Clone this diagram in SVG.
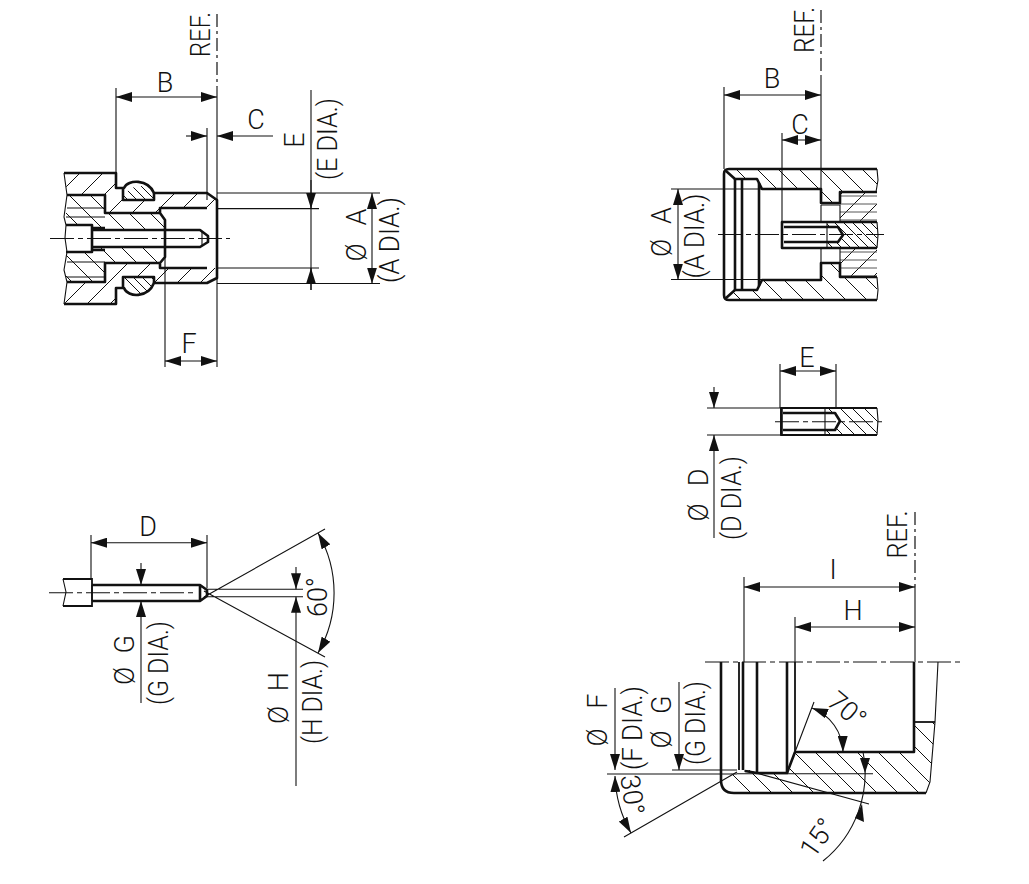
<svg xmlns="http://www.w3.org/2000/svg" width="1029" height="884" viewBox="0 0 1029 884">
<style>
text{font-family:"Roboto","Liberation Sans",sans-serif;font-weight:300;font-size:27px;fill:#111;text-anchor:middle}
.n{fill:none;stroke:#111;stroke-width:1.1}
.k{fill:none;stroke:#111;stroke-width:2.6;stroke-linejoin:round}
.m{fill:none;stroke:#111;stroke-width:1.8}
.c{fill:none;stroke:#111;stroke-width:1.1;stroke-dasharray:24 4 5 4}
.r{fill:none;stroke:#111;stroke-width:1.2;stroke-dasharray:13 4 3 4}
.w{fill:#fff;stroke:none}
.d{fill:none;stroke:#111;stroke-width:1.1;marker-start:url(#a);marker-end:url(#a)}
.e{fill:none;stroke:#111;stroke-width:1.1;marker-end:url(#a)}
</style>
<defs>
<marker id="a" markerUnits="userSpaceOnUse" viewBox="0 0 16 10" refX="16" refY="5" markerWidth="16" markerHeight="10" orient="auto-start-reverse"><path d="M16,5L0,0V10z" fill="#111"/></marker>
<pattern id="s" width="21" height="21" patternUnits="userSpaceOnUse"><path d="M-2,-2L23,23" stroke="#111" stroke-width="1"/></pattern>
<pattern id="s2" width="9" height="9" patternUnits="userSpaceOnUse"><path d="M-2,-2L11,11" stroke="#111" stroke-width="1"/></pattern>
<pattern id="s3" width="12" height="12" patternUnits="userSpaceOnUse"><path d="M-2,-2L14,14" stroke="#111" stroke-width="1"/></pattern>
<pattern id="f" width="23" height="23" patternUnits="userSpaceOnUse"><path d="M-2,25L25,-2" stroke="#111" stroke-width="1"/></pattern>
<pattern id="h" width="10" height="8" patternUnits="userSpaceOnUse"><path d="M0,4H10" stroke="#555" stroke-width="1"/></pattern>
</defs>

<g id="view-socket-left">
<path fill="url(#f)" d="M65,173H116V188H123V200H154V193H207L217,200V208H160V213H105V195H67Z"/>
<path fill="url(#f)" d="M67,282H105V263H160V268H217V278L207,283H154V277H123V288H116V304H65Z"/>
<path fill="url(#s)" d="M66,195H105V213H160L165,220V230H92V225H66Z"/>
<path fill="url(#s)" d="M66,252H92V247H165V257L160,263H105V282H66Z"/>
<path fill="url(#s2)" d="M123,199C124,186 152,178 154,199ZM123,277C124,298 152,300 154,277Z"/>
<path class="k" d="M64,173H116V188H124C128,179 148,179 154,193H207L217,200V278L207,283H154C148,298 128,298 124,288H116V304H64"/>
<path class="k" d="M123,188V200H154V193M123,288V277H154V283"/>
<path class="k" d="M67,195H105V213H160L165,220V257L160,263H105V282H67M160,213V208H207M160,263V268H207"/>
<path class="k" d="M66,225H92V252H66M92,230H200L208,236V242L200,247H92M92,228H105M92,250H105"/>
<path class="n" d="M64,173L67,195L64,217L66,225L65,238L67,252L64,270L67,282L64,304M66,217H105M67,208H105M67,262H105M67,277H105M202,231V246"/>
<path class="c" d="M50,238.5H230"/>
</g>
<g id="dims-socket-left">
<path class="n" d="M116,88V173M217,87V299M207,128V200M165,250V367M217,299V367M217,193H380M217,283.5H380M217,208.6H319M217,268H319"/>
<path class="r" d="M217,14V87"/>
<path class="d" d="M116,97H217"/>
<path class="e" d="M186,136H207"/>
<path class="e" d="M273,136H217"/>
<path class="n" d="M311,90V290"/>
<path class="e" d="M311,180V208.6"/>
<path class="e" d="M311,290V268"/>
<path class="d" d="M372,193V283.5"/>
<path class="d" d="M165,361H217"/>
<text x="165" y="92">B</text><text x="256" y="129">C</text><text x="189" y="353">F</text>
<text transform="translate(210,34.5) rotate(-90)" textLength="45" lengthAdjust="spacingAndGlyphs">REF.</text>
<text transform="translate(304,140) rotate(-90)">E</text>
<text transform="translate(337,139) rotate(-90)" textLength="82" lengthAdjust="spacingAndGlyphs">(E DIA.)</text>
<text transform="translate(366,235) rotate(-90)" textLength="53" lengthAdjust="spacing">Ø A</text>
<text transform="translate(399,240) rotate(-90)" textLength="86" lengthAdjust="spacingAndGlyphs">(A DIA.)</text>
</g>

<g id="view-pin-left">
<path class="m" d="M63,579H92V606H63"/>
<path class="n" d="M63,579L66,592L63,606"/>
<path class="k" d="M92,585H200L207,590V596L200,601H92M200,586V600"/>
<path class="n" d="M92,585V601"/>
<path class="c" d="M49,592.7H197"/>
<path class="n" d="M325,529L204,597M325,657L204,591M207,589.3H303M207,596.7H303M91,535V579M207,535V588"/>
<path class="d" d="M91,542.7H207"/>
<path class="e" d="M141,563V585"/>
<path class="e" d="M141,703V601"/>
<path class="e" d="M296,567V589.3"/>
<path class="e" d="M296,786V596.7"/>
<path class="d" d="M318,533A120,120 0 0 1 318,653"/>
<text x="148" y="536">D</text>
<text transform="translate(134,660) rotate(-90)" textLength="50" lengthAdjust="spacing">Ø G</text>
<text transform="translate(168,663) rotate(-90)" textLength="84" lengthAdjust="spacingAndGlyphs">(G DIA.)</text>
<text transform="translate(288,698) rotate(-90)" textLength="52" lengthAdjust="spacing">Ø H</text>
<text transform="translate(322,702) rotate(-90)" textLength="84" lengthAdjust="spacingAndGlyphs">(H DIA.)</text>
<text transform="translate(327,597) rotate(-90)">60°</text>
</g>

<g id="view-socket-right">
<path fill="url(#s)" d="M727,169H877V192H840V203H821V189H762L757,179H735L727,172Z"/>
<path fill="url(#s)" d="M727,300H877V277H840V263H821V280H762L757,290H735L727,297Z"/>
<path fill="url(#f)" d="M840,192H877V222H840ZM840,248H877V277H840Z"/>
<path fill="url(#h)" d="M840,192H877V222H840ZM840,248H877V277H840Z"/>
<path fill="url(#s2)" d="M827,222H877V248H827Z"/>
<path class="w" d="M782,227H838L843,235L838,242H782Z"/>
<path class="k" d="M877,169H729Q724,169 724,174V295Q724,300 729,300H877"/>
<path class="k" d="M726,171L735,179H757L762,189H821V203H840V192H877M726,298L735,290H757L762,280H821V263H840V277H877"/>
<path class="k" d="M735,179V290M742,179V290M759,183V286"/>
<path class="k" d="M877,222H782V248H877M784,227H838L843,235L838,242H784"/>
<path class="n" d="M821,205H840V222M821,222V205M821,248V263M840,248V263M827,222V248M877,169L878,180L876,192M877,222L878,235L877,248M877,277L878,290L877,300"/>
<path class="c" d="M718,234.5H884"/>
</g>
<g id="dims-socket-right">
<path class="n" d="M724,87V169M821,75V203M782,133V222M671,189H762M671,279.5H762"/>
<path class="r" d="M821,10V75"/>
<path class="d" d="M724,95H821"/>
<path class="d" d="M782,140H821"/>
<path class="d" d="M678,189V279.5"/>
<text x="772" y="88">B</text><text x="800" y="134">C</text>
<text transform="translate(814,30) rotate(-90)" textLength="46" lengthAdjust="spacingAndGlyphs">REF.</text>
<text transform="translate(671,232) rotate(-90)" textLength="50" lengthAdjust="spacing">Ø A</text>
<text transform="translate(704,236) rotate(-90)" textLength="85" lengthAdjust="spacingAndGlyphs">(A DIA.)</text>
</g>

<g id="view-contact">
<path fill="url(#s3)" d="M825,408H877V435H825Z"/>
<path class="w" d="M783,413H835L840,421L835,430H783Z"/>
<path class="m" d="M877,408H781V435H877"/>
<path class="k" d="M781.5,408V435M783,413H835L840,421L835,430H783"/>
<path class="n" d="M825,408V435M877,408L878,420L877,435"/>
<path class="c" d="M775,421.7H882"/>
<path class="n" d="M780,364V408M836,364V408M707,408H780M707,435H780"/>
<path class="d" d="M780,371H836"/>
<path class="e" d="M714,387V408"/>
<path class="e" d="M714,538V435"/>
<text x="807" y="367">E</text>
<text transform="translate(708,495) rotate(-90)" textLength="53" lengthAdjust="spacing">Ø D</text>
<text transform="translate(741,498) rotate(-90)" textLength="84" lengthAdjust="spacingAndGlyphs">(D DIA.)</text>
</g>

<g id="view-cavity">
<path fill="url(#s)" d="M735,771L743,770H749L757,773H787L795,752H914V722H935L930,782L926,793H733L722,782Z"/>
<path class="k" d="M721,662V780Q721,793 734,793H926M743,662V770M757,662V773M787,662V773M914,662V752H795"/>
<path class="m" d="M739,662V770M795,662V752"/>
<path class="k" d="M745,771L757,773H787L795,752"/>
<path class="m" d="M914,722H935"/>
<path class="n" d="M938,662L935,722L930,782L926,793"/>
<path class="n" d="M744,771H749L869,804M737,772L624,837"/>
<path class="n" d="M672,770H737M607,774H737M737,773.7H873"/>
<path class="n" d="M744,577V662M795,617V662M915,587V662"/>
<path class="r" d="M915,512V587"/>
<path class="c" d="M705,662H960"/>
<path class="d" d="M744,587H915"/>
<path class="d" d="M795,627H915"/>
<path class="e" d="M615,688V770"/>
<path class="e" d="M679,682V770"/>
<path class="d" d="M615,776A122,122 0 0 0 631,833"/>
<path class="d" d="M812,708A48,48 0 0 1 843,752"/>
<path class="n" d="M795,752L814,702M863,752A112,112 0 0 1 823,861"/>
<polygon fill="#111" points="865,773 860,758 870,758"/>
<polygon fill="#111" points="862,804 855,818 864,822"/>
<text x="833" y="579">I</text><text x="853" y="620">H</text>
<text transform="translate(907,534.5) rotate(-90)" textLength="48" lengthAdjust="spacingAndGlyphs">REF.</text>
<text transform="translate(607,720) rotate(-90)" textLength="53" lengthAdjust="spacing">Ø F</text>
<text transform="translate(642,728) rotate(-90)" textLength="84" lengthAdjust="spacingAndGlyphs">(F DIA.)</text>
<text transform="translate(671,722) rotate(-90)" textLength="53" lengthAdjust="spacing">Ø G</text>
<text transform="translate(705,723) rotate(-90)" textLength="84" lengthAdjust="spacingAndGlyphs">(G DIA.)</text>
<text transform="translate(632,795) rotate(82)" y="9">30°</text>
<text transform="translate(847,710) rotate(40)" y="9">70°</text>
<text transform="translate(818,838) rotate(-55)" y="9">15°</text>
</g>
</svg>
